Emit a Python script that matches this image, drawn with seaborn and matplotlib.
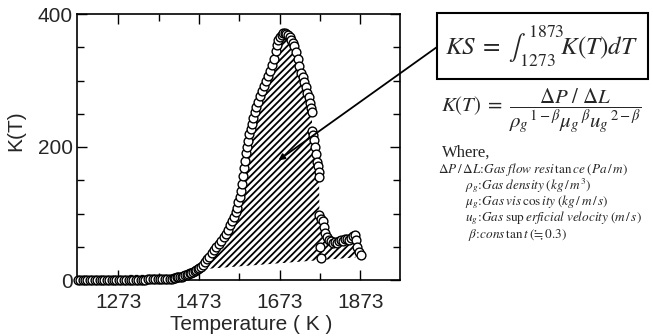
import numpy as np
import pandas as pd
import matplotlib
matplotlib.use("Agg")
import matplotlib.pyplot as plt
from matplotlib.patches import Rectangle
from matplotlib.ticker import FixedLocator
import seaborn as sns

# Measured permeability index K(T) versus temperature
temperature = [
    1172, 1178, 1184, 1190, 1196, 1202, 1208, 1214, 1220, 1226, 1232, 1238, 1244,
    1250, 1256, 1262, 1268, 1274, 1280, 1286, 1292, 1298, 1304, 1310, 1316, 1322,
    1328, 1334, 1340, 1346, 1352, 1358, 1364, 1370, 1376, 1382, 1388, 1394,
    1400, 1405, 1410, 1414, 1418, 1422, 1426, 1430, 1434, 1438, 1442, 1446, 1450,
    1454, 1458, 1462, 1466, 1470, 1474, 1478,
    1483, 1488, 1493, 1498, 1504, 1510, 1516, 1522, 1528, 1534, 1540, 1546, 1551,
    1556, 1560, 1564, 1568, 1571, 1574, 1577, 1579, 1582, 1585, 1587, 1590, 1592,
    1595, 1598, 1601, 1604, 1608, 1612, 1615, 1620, 1625, 1630, 1635, 1640, 1645,
    1650, 1655, 1660, 1664, 1667, 1670, 1674, 1678, 1682, 1686, 1690, 1694, 1698,
    1702, 1706, 1710, 1714, 1718, 1722, 1726, 1730, 1734, 1738, 1742, 1745, 1748,
    1751, 1753, 1754, 1756, 1758, 1761, 1764, 1766, 1768, 1770, 1771,
    1772, 1774, 1775, 1777, 1780, 1784, 1787, 1790, 1795, 1800, 1805, 1810, 1815,
    1820, 1825, 1830, 1835, 1840, 1845, 1850, 1855, 1860, 1863, 1866, 1870, 1874,
]
k_value = [
    0, 0, 0, 0, 0, 0, 0, 0, 0, 0, 0, 0, 0,
    0, 0, 0, 0, 0, 0, 0, 0, 0, 0, 0, 0, 0,
    0, 0, 0, 1, 1, 1, 1, 1, 1, 1, 1, 1,
    2, 2, 3, 3, 4, 4, 5, 5, 6, 7, 8, 9, 10,
    11, 12, 13, 15, 16, 18, 20,
    23, 27, 31, 35, 40, 45, 49, 54, 59, 64, 69, 75, 82,
    88, 95, 102, 109, 117, 125, 134, 144, 156, 168, 179, 191, 200,
    209, 219, 227, 235, 244, 253, 260, 268, 276, 284, 291, 299, 307,
    315, 323, 332, 344, 354, 361, 366, 369, 371, 371, 370, 368, 365,
    361, 357, 352, 343, 333, 322, 312, 305, 297, 290, 281, 275, 266,
    258, 252, 224, 218, 210, 200, 190, 178, 172, 163, 155,
    97, 49, 92, 33, 88, 80, 70, 64, 60, 58, 56, 57, 55,
    58, 60, 59, 61, 62, 60, 63, 66, 68, 60, 50, 42, 37,
]

# Lower edge of the integrated (hatched) area
hatch_edge_t = [1477, 1862]
hatch_edge_k = [16, 34]

x_major = [1273, 1473, 1673, 1873]
x_minor = [1373, 1573, 1773]
y_major = [0, 200, 400]
y_minor = [50, 100, 150, 250, 300, 350]

df = pd.DataFrame({"T": temperature, "K": k_value}).sort_values("T", kind="stable")

sns.set_theme(style="ticks")
plt.rcParams["font.family"] = ["Liberation Sans", "DejaVu Sans"]
plt.rcParams["mathtext.fontset"] = "stix"
plt.rcParams["hatch.linewidth"] = 1.3

W, H = 653, 336
fig = plt.figure(figsize=(W / 100, H / 100), dpi=100)
ax = fig.add_axes([77 / W, 1 - 280 / H, 323 / W, 266 / H])

def fx(px):
    return px / W

def fy(py):
    return 1 - py / H

# hatched area between the curve and the sloping lower edge
base = np.interp(df["T"], hatch_edge_t, hatch_edge_k)
inside = (df["T"] >= hatch_edge_t[0]) & (df["T"] <= hatch_edge_t[1]) & (df["K"] > base + 25)
t_in = np.concatenate([[hatch_edge_t[0]], df["T"][inside].to_numpy(), [hatch_edge_t[1]]])
k_in = np.concatenate([[hatch_edge_k[0]], df["K"][inside].to_numpy(), [hatch_edge_k[1]]])
ax.fill_between(t_in, np.interp(t_in, hatch_edge_t, hatch_edge_k), k_in,
                facecolor="none", edgecolor="black", hatch="/////", linewidth=0, zorder=1)

# dashed guide along the low-temperature baseline
ax.plot([1300, 1400], [8, 8], ls=(0, (2.5, 2)), color="black", lw=0.9, zorder=2)

sns.scatterplot(data=df, x="T", y="K", ax=ax, marker="o", s=40,
                facecolor="white", edgecolor="black", linewidth=1.0,
                zorder=3, clip_on=False, legend=False)

ax.set_xlim(1170, 1972)
ax.set_ylim(0, 400)
ax.xaxis.set_major_locator(FixedLocator(x_major))
ax.xaxis.set_minor_locator(FixedLocator(x_minor))
ax.yaxis.set_major_locator(FixedLocator(y_major))
ax.yaxis.set_minor_locator(FixedLocator(y_minor))
ax.set_xticklabels([str(v) for v in x_major])
ax.set_yticklabels([str(v) for v in y_major])
ax.tick_params(which="both", direction="in", top=True, right=True, color="black", width=1.0)
ax.tick_params(which="major", length=7)
ax.tick_params(which="minor", length=5)
ax.tick_params(axis="x", which="major", labelsize=15, pad=9)
ax.tick_params(axis="y", which="major", labelsize=15, pad=3)
for sp in ax.spines.values():
    sp.set_linewidth(1.2)
    sp.set_color("black")
ax.set_xlabel("Temperature ( K )", fontsize=15)
ax.xaxis.set_label_coords(0.54, -0.13)
ax.set_ylabel("K(T)", fontsize=15)
ax.yaxis.set_label_coords(-0.16, 0.56)
ax.set_facecolor("white")

# integral definition in a framed box, with a pointer into the hatched area
fig.patches.append(Rectangle((fx(437), fy(79)), fx(648) - fx(437), fy(13) - fy(79),
                             transform=fig.transFigure, fill=False, lw=1.5, ec="black"))
fig.text(fx(542), fy(46), r"$KS\;=\;\int_{\,1273}^{\,1873}\!K(T)dT$", fontsize=18,
         ha="center", va="center")
ax.annotate("", xy=(1670, 180), xycoords="data",
            xytext=(fx(437), fy(47)), textcoords="figure fraction",
            arrowprops=dict(arrowstyle="-|>", color="black", lw=1.3,
                            mutation_scale=9, shrinkA=0, shrinkB=0),
            annotation_clip=False)

fig.text(fx(541), fy(111),
         r"$K(T)\;=\;\dfrac{\Delta P\ /\ \Delta L}{{\rho_g}^{\,1-\beta}{\mu_g}^{\,\beta}{u_g}^{\,2-\beta}}$",
         fontsize=15, ha="center", va="center")

fig.text(fx(442), fy(153), "Where,", fontsize=12, family="Liberation Serif",
         ha="left", va="center")
lines = [
    (438, 169, r"$\Delta P\,/\,\Delta L\!:\!Gas\;flow\;resi\,\mathrm{tan}\,ce\;(Pa\,/\,m)$"),
    (465, 186, r"$\rho_g\!:\!Gas\;density\;(kg\,/\,m^3)$"),
    (465, 202, r"$\mu_g\!:\!Gas\;vis\,\mathrm{cos}\,ity\;(kg\,/\,m\,/\,s)$"),
    (465, 218, r"$u_g\!:\!Gas\;\mathrm{sup}\,erficial\;velocity\;(m\,/\,s)$"),
    (468, 235, r"$\beta\!:\!cons\,\mathrm{tan}\,t\;(≒\,0.3)$"),
]
for x, y, s in lines:
    fig.text(fx(x), fy(y), s, fontsize=9.5, ha="left", va="center")

fig.savefig("out.png", dpi=100, facecolor="white")
